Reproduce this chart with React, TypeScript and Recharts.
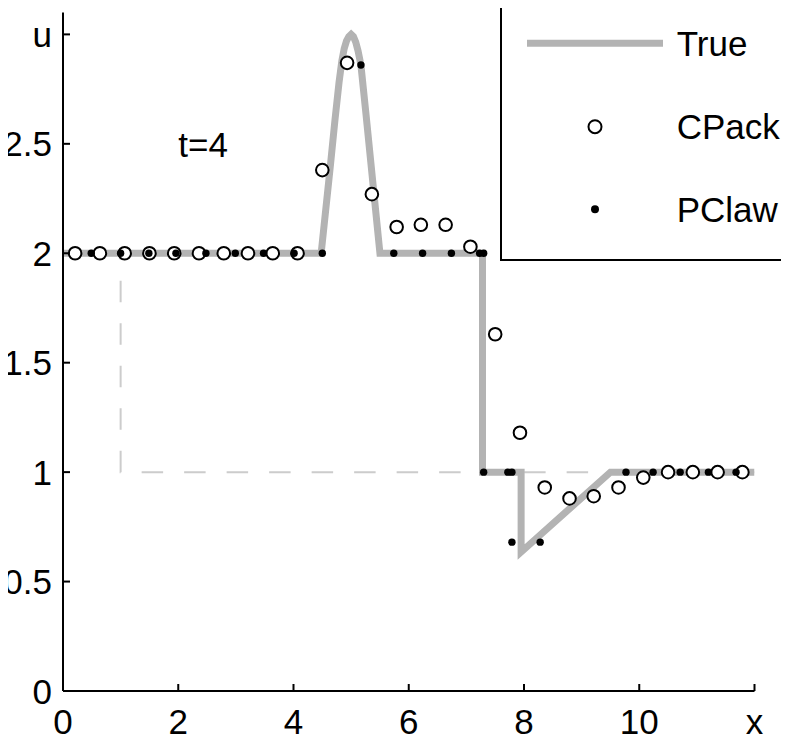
import React from 'react';
import { ComposedChart, Line, Scatter, XAxis, YAxis, Legend } from 'recharts';

const xTickValues = [0, 2, 4, 6, 8, 10, 12];
const xTickLabels = ['0', '2', '4', '6', '8', '10', 'x'];
const yTickValues = [0, 0.5, 1, 1.5, 2, 2.5, 3];
const yTickLabels = ['0', '0.5', '1', '1.5', '2', '2.5', 'u'];

const trueX = [0, 4.48, 4.56, 4.64, 4.72, 4.79, 4.84, 4.88, 4.92, 4.96, 5.0, 5.04, 5.08, 5.12, 5.17, 5.26, 5.34, 5.42, 5.5, 7.28, 7.28, 7.95, 7.95, 9.5, 12];
const trueU = [2, 2, 2.2, 2.4, 2.61, 2.78, 2.88, 2.935, 2.97, 2.99, 3.0, 2.99, 2.965, 2.925, 2.86, 2.63, 2.42, 2.21, 2, 2, 1, 1, 0.635, 1, 1];

const cpackX = [0.21, 0.64, 1.07, 1.5, 1.93, 2.36, 2.79, 3.21, 3.64, 4.07, 4.5, 4.93, 5.36, 5.79, 6.21, 6.64, 7.07, 7.5, 7.93, 8.36, 8.79, 9.21, 9.64, 10.07, 10.5, 10.93, 11.36, 11.79];
const cpackU = [2, 2, 2, 2, 2, 2, 2, 2, 2, 2, 2.38, 2.87, 2.27, 2.12, 2.13, 2.13, 2.03, 1.63, 1.18, 0.93, 0.88, 0.89, 0.93, 0.975, 1.0, 1.0, 1.0, 1.0];

const pclawX = [0.49, 1.0, 1.49, 1.96, 2.48, 2.99, 3.48, 4.01, 4.5, 5.17, 5.74, 6.24, 6.74, 7.23, 7.3, 7.3, 7.72, 7.79, 7.79, 8.28, 9.77, 10.24, 10.71, 11.2, 11.68];
const pclawU = [2, 2, 2, 2, 2, 2, 2, 2, 2, 2.86, 2, 2, 2, 2, 2, 1, 1, 1, 0.68, 0.68, 1, 1, 1, 1, 1];

const initX = [0, 1, 1, 12];
const initU = [2, 2, 1, 1];

const annotationText = 't=4';
const annotationX = [2];
const annotationU = [2.44];

const seriesNames = ['True', 'CPack', 'PClaw'];

const toPoints = (xs: number[], us: number[]) => xs.map((x, i) => ({ x, y: us[i] }));
const trueData = toPoints(trueX, trueU);
const cpackData = toPoints(cpackX, cpackU);
const pclawData = toPoints(pclawX, pclawU);
const initData = toPoints(initX, initU);
const annotationData = toPoints(annotationX, annotationU);

const FONT = '"Liberation Sans", Arial, Helvetica, sans-serif';
const FS = 35;
const GRAY = '#b3b3b3';

const BottomTick = (p: any) => (
  <g>
    <line x1={p.x} x2={p.x} y1={p.y} y2={p.y - 7} stroke="#000" strokeWidth={2} />
    <text x={p.x} y={p.y + 43} textAnchor="middle" fontSize={FS} fontFamily={FONT} fill="#000">
      {xTickLabels[xTickValues.indexOf(p.payload.value)]}
    </text>
  </g>
);
const TopTick = (p: any) => (
  <line x1={p.x} x2={p.x} y1={p.y} y2={p.y + 7} stroke="#000" strokeWidth={2} />
);
const LeftTick = (p: any) => (
  <g>
    <line x1={p.x} x2={p.x + 7} y1={p.y} y2={p.y} stroke="#000" strokeWidth={2} />
    <text x={p.x - 11} y={p.y + 12.5} textAnchor="end" fontSize={FS} fontFamily={FONT} fill="#000">
      {yTickLabels[yTickValues.indexOf(p.payload.value)]}
    </text>
  </g>
);
const RightTick = (p: any) => (
  <line x1={p.x} x2={p.x - 7} y1={p.y} y2={p.y} stroke="#000" strokeWidth={2} />
);

const OpenCircle = (p: any) => (
  <circle cx={p.cx} cy={p.cy} r={6.3} fill="#fff" stroke="#000" strokeWidth={2} />
);
const FilledDot = (p: any) => <circle cx={p.cx} cy={p.cy} r={3.7} fill="#000" stroke="none" />;
const AnnotationShape = (p: any) => (
  <text x={p.cx} y={p.cy} fontSize={FS} fontFamily={FONT} fill="#000">
    {annotationText}
  </text>
);

const LegendBox = () => (
  <svg width={289} height={274} style={{ display: 'block' }}>
    <rect x={1} y={0} width={300} height={272} fill="#fff" />
    <line x1={1} x2={1} y1={0} y2={273} stroke="#000" strokeWidth={2} />
    <line x1={0} x2={289} y1={272} y2={272} stroke="#000" strokeWidth={2} />
    <line x1={27} x2={163} y1={55.3} y2={55.3} stroke={GRAY} strokeWidth={7} />
    <text x={176.7} y={67.7} fontSize={FS} fontFamily={FONT} fill="#000">{seriesNames[0]}</text>
    <circle cx={95} cy={138.7} r={6.5} fill="#fff" stroke="#000" strokeWidth={2} />
    <text x={176.7} y={151.3} fontSize={FS} fontFamily={FONT} fill="#000">{seriesNames[1]}</text>
    <circle cx={95} cy={221.3} r={4} fill="#000" />
    <text x={176.7} y={233.7} fontSize={FS} fontFamily={FONT} fill="#000">{seriesNames[2]}</text>
  </svg>
);

export default function App() {
  return (
    <div style={{ margin: '-8px -8px -8px -8px', width: 789, height: 746 }}>
      <ComposedChart
        width={789}
        height={746}
        margin={{ top: 12.5, right: 34.5, bottom: 0, left: 0 }}
        style={{ fontFamily: FONT }}
      >
        <XAxis
          xAxisId="b"
          type="number"
          dataKey="x"
          domain={[0, 12]}
          ticks={xTickValues}
          interval={0}
          height={55}
          tickSize={0}
          tickMargin={0}
          tickLine={false}
          axisLine={{ stroke: '#000', strokeWidth: 2 }}
          tick={<BottomTick />}
          allowDataOverflow
        />
        <XAxis
          xAxisId="t"
          orientation="top"
          type="number"
          dataKey="x"
          domain={[0, 12]}
          ticks={xTickValues}
          interval={0}
          height={0}
          tickSize={0}
          tickMargin={0}
          tickLine={false}
          axisLine={{ stroke: '#000', strokeWidth: 2 }}
          tick={<TopTick />}
          allowDataOverflow
        />
        <YAxis
          yAxisId="l"
          type="number"
          dataKey="y"
          domain={[0, 3.1]}
          ticks={yTickValues}
          interval={0}
          width={63}
          tickSize={0}
          tickMargin={0}
          tickLine={false}
          axisLine={{ stroke: '#000', strokeWidth: 2 }}
          tick={<LeftTick />}
          allowDataOverflow
        />
        <YAxis
          yAxisId="r"
          orientation="right"
          type="number"
          dataKey="y"
          domain={[0, 3.1]}
          ticks={yTickValues}
          interval={0}
          width={0}
          tickSize={0}
          tickMargin={0}
          tickLine={false}
          axisLine={{ stroke: '#000', strokeWidth: 2 }}
          tick={<RightTick />}
          allowDataOverflow
        />
        <Line
          xAxisId="b"
          yAxisId="l"
          data={initData}
          dataKey="y"
          type="linear"
          stroke="#cccccc"
          strokeWidth={2}
          strokeDasharray="21.5 21"
          dot={false}
          activeDot={false}
          isAnimationActive={false}
          legendType="none"
        />
        <Line
          xAxisId="b"
          yAxisId="l"
          data={trueData}
          dataKey="y"
          name={seriesNames[0]}
          type="linear"
          stroke={GRAY}
          strokeWidth={7}
          strokeLinejoin="miter"
          dot={false}
          activeDot={false}
          isAnimationActive={false}
        />
        <Scatter
          xAxisId="b"
          yAxisId="l"
          data={cpackData}
          dataKey="y"
          name={seriesNames[1]}
          shape={<OpenCircle />}
          isAnimationActive={false}
        />
        <Scatter
          xAxisId="b"
          yAxisId="l"
          data={pclawData}
          dataKey="y"
          name={seriesNames[2]}
          shape={<FilledDot />}
          isAnimationActive={false}
        />
        <Scatter
          xAxisId="b"
          yAxisId="l"
          data={annotationData}
          dataKey="y"
          shape={<AnnotationShape />}
          isAnimationActive={false}
          legendType="none"
        />
        <Legend
          layout="horizontal"
          verticalAlign="middle"
          align="center"
          content={() => <LegendBox />}
          wrapperStyle={{
            position: 'absolute',
            left: 500,
            top: -12,
            right: 'auto',
            bottom: 'auto',
            width: 289,
            height: 274,
            margin: 0,
            padding: 0,
          }}
        />
      </ComposedChart>
    </div>
  );
}
